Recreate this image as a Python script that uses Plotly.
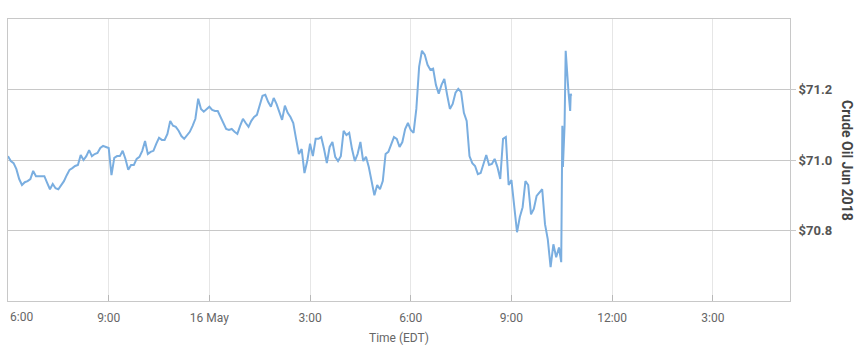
import pandas as pd
import plotly.graph_objects as go

# Crude Oil Jun 2018 prices, 5-minute samples starting 2018-05-15 18:00 EDT
prices_main = [
    71.011, 70.997, 70.991, 70.974, 70.946, 70.929, 70.937, 70.940, 70.946, 70.969,
    70.954, 70.954, 70.952, 70.954, 70.935, 70.917, 70.932, 70.920, 70.917, 70.929,
    70.940, 70.957, 70.972, 70.977, 70.983, 70.986, 71.014, 71.000, 71.011, 71.028,
    71.011, 71.017, 71.020, 71.034, 71.040, 71.037, 71.034, 70.957, 71.006, 71.011,
    71.011, 71.026, 71.003, 70.972, 70.986, 70.986, 71.003, 71.009, 71.026, 71.054,
    71.017, 71.023, 71.026, 71.046, 71.063, 71.057, 71.057, 71.074, 71.111, 71.097,
    71.094, 71.083, 71.068, 71.060, 71.071, 71.080, 71.097, 71.117, 71.174, 71.145,
    71.137, 71.145, 71.151, 71.142, 71.139, 71.139, 71.122, 71.102, 71.088, 71.085,
    71.088, 71.080, 71.074, 71.097, 71.117, 71.105, 71.094, 71.111, 71.122, 71.128,
    71.156, 71.182, 71.185, 71.165, 71.151, 71.176, 71.159, 71.139, 71.114, 71.154,
    71.134, 71.122, 71.105, 71.060, 71.017, 71.031, 70.963, 70.997, 71.046, 71.011,
    71.060, 71.060, 71.065, 71.031, 70.991, 71.037, 71.051, 71.009, 70.997, 71.011,
    71.083, 71.071, 71.077, 71.031, 70.997, 71.017, 71.051, 70.997, 71.009, 70.980,
    70.943, 70.900, 70.929, 70.917, 70.940, 71.017, 71.023, 71.046, 71.065, 71.060,
    71.037, 71.051, 71.088, 71.105, 71.085, 71.077, 71.145, 71.265, 71.310, 71.299,
    71.270, 71.256, 71.259, 71.213, 71.188, 71.213, 71.230, 71.185, 71.145, 71.159,
    71.191, 71.202, 71.193, 71.134, 71.111, 71.011, 70.991, 70.983, 70.960, 70.963,
    70.989, 71.014, 70.986, 70.989, 71.003, 70.980, 70.946, 71.060, 71.065, 70.929,
    70.943, 70.875, 70.795, 70.838, 70.866, 70.940, 70.929, 70.846, 70.861, 70.898,
    70.909, 70.917, 70.818, 70.775, 70.696, 70.761, 70.724, 70.752,
]
# final minutes (finer detail of the late spike)
tail_times = ["2018-05-16 10:29", "2018-05-16 10:31", "2018-05-16 10:32",
              "2018-05-16 10:35", "2018-05-16 10:37", "2018-05-16 10:39",
              "2018-05-16 10:41", "2018-05-16 10:42", "2018-05-16 10:45",
              "2018-05-16 10:46", "2018-05-16 10:47"]
tail_prices = [70.710, 71.097, 70.980, 71.097, 71.310, 71.245, 71.216, 71.193,
               71.139, 71.188, 71.182]

tick_times = ["2018-05-15 18:00", "2018-05-15 21:00", "2018-05-16 00:00",
              "2018-05-16 03:00", "2018-05-16 06:00", "2018-05-16 09:00",
              "2018-05-16 12:00", "2018-05-16 15:00"]
tick_labels = ["6:00", "9:00", "16 May", "3:00", "6:00", "9:00", "12:00", "3:00"]

y_ticks = [70.8, 71.0, 71.2]
y_labels = ["$70.8", "$71.0", "$71.2"]

x_range = ["2018-05-15 18:00", "2018-05-16 17:18"]
y_range = [70.6, 71.4]

times_main = pd.date_range("2018-05-15 18:00", periods=len(prices_main), freq="5min")
times = list(times_main) + list(pd.to_datetime(tail_times))
prices = prices_main + tail_prices

fig = go.Figure()
fig.add_trace(go.Scatter(
    x=times, y=prices, mode="lines",
    line=dict(color="#7aaee0", width=2),
    hoverinfo="skip", showlegend=False,
))

fig.update_layout(
    width=867, height=355,
    margin=dict(l=8, r=77, t=19, b=54),
    paper_bgcolor="white", plot_bgcolor="white",
    font=dict(family="Roboto, Open Sans, sans-serif", size=12, color="#666"),
    xaxis=dict(
        type="date", range=x_range,
        tickmode="array", tickvals=tick_times,
        ticktext=[""] + tick_labels[1:],
        showgrid=True, gridcolor="#e6e6e6", gridwidth=1,
        showline=True, linecolor="#c8c8c8", linewidth=1, mirror=True,
        ticks="inside", ticklen=6, tickcolor="#b8b8b8",
        tickfont=dict(size=12, color="#666"),
        ticklabelstandoff=6,
        zeroline=False, fixedrange=True,
    ),
    yaxis=dict(
        side="right", range=y_range,
        tickmode="array", tickvals=y_ticks, ticktext=y_labels,
        showgrid=True, gridcolor="#c8c8c8", gridwidth=1,
        showline=True, linecolor="#c8c8c8", linewidth=1, mirror=True,
        ticks="outside", ticklen=5, tickcolor="#c8c8c8",
        tickfont=dict(size=13, color="#555", family="Roboto, sans-serif", weight="bold"),
        zeroline=False, fixedrange=True,
    ),
)

# first x tick label (left-aligned so it stays inside the chart)
fig.add_annotation(
    x=tick_times[0], xref="x", xanchor="left",
    y=0, yref="paper", yanchor="middle", yshift=-16,
    text=tick_labels[0], showarrow=False,
    font=dict(size=12, color="#666", family="Roboto, sans-serif"),
)
# x axis title
fig.add_annotation(
    x=0.5, xref="paper", y=0, yref="paper", yanchor="middle", yshift=-37,
    text="Time (EDT)", showarrow=False,
    font=dict(size=12, color="#666", family="Roboto, sans-serif"),
)
# y axis title (reading top to bottom)
fig.add_annotation(
    x=1, xref="paper", xshift=67, y=0.5, yref="paper",
    text="<b>Crude Oil Jun 2018</b>", textangle=90, showarrow=False,
    font=dict(size=14, color="#444", family="Roboto, sans-serif"),
)

fig.write_html("out.html")
